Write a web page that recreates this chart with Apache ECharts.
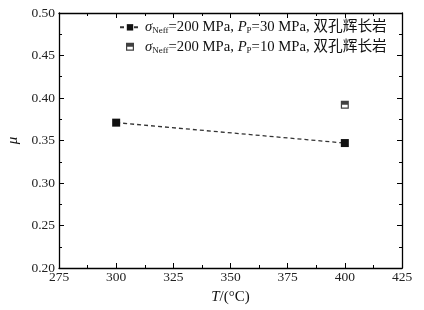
<!DOCTYPE html>
<html>
<head>
<meta charset="utf-8">
<script src="https://cdn.jsdelivr.net/npm/echarts@6/dist/echarts.min.js"></script>
<style>
html, body { margin: 0; padding: 0; background: #fff; }
#main { width: 424px; height: 310px; }
</style>
</head>
<body>
<div id="main"></div>
<script>
var temps30 = [300, 400];
var mu30 = [0.371, 0.347];
var temps10 = [400];
var mu10 = [0.392];
var names = ['p30', 'p10'];
var legendText = {
    p30: '{i|σ}{s|Neff}=200 MPa, {i|P}{s|P}=30 MPa, 双孔辉长岩',
    p10: '{i|σ}{s|Neff}=200 MPa, {i|P}{s|P}=10 MPa, 双孔辉长岩'
};

var serif = '"Liberation Serif", "Times New Roman", "Noto Sans CJK SC", serif';
var halfSquare = 'path://M0,0H10V10H0Z M1.5,5V8.5H8.5V5Z';

var myChart = echarts.init(document.getElementById('main'));
var axisCommon = {
    axisLine: { show: true, onZero: false, lineStyle: { color: '#000', width: 1.3 } },
    axisTick: { show: true, inside: true, length: 5, lineStyle: { color: '#000' } },
    minorTick: { show: true, splitNumber: 2, length: 3, lineStyle: { color: '#000' } },
    splitLine: { show: false }
};
var option = {
    animation: false,
    backgroundColor: '#fff',
    grid: { left: 59, right: 22, top: 13, bottom: 42, outerBoundsMode: 'none', containLabel: false },
    legend: {
        orient: 'vertical',
        left: 114,
        top: 15,
        itemGap: 4,
        itemWidth: 20,
        itemHeight: 8,
        data: names,
        formatter: function (n) { return legendText[n]; },
        textStyle: {
            fontFamily: serif,
            fontSize: 14.7,
            color: '#111',
            rich: {
                i: { fontFamily: serif, fontStyle: 'italic', fontSize: 14.7, color: '#111' },
                s: { fontFamily: serif, fontSize: 9, color: '#111', verticalAlign: 'bottom', padding: [7, 0, 0, 0] }
            }
        }
    },
    xAxis: [
        Object.assign({
            type: 'value', min: 275, max: 425, interval: 25,
            name: '{i|T}/(°C)', nameLocation: 'middle', nameGap: 22,
            nameTextStyle: {
                fontFamily: serif, fontSize: 15, color: '#111',
                rich: { i: { fontFamily: serif, fontStyle: 'italic', fontSize: 15, color: '#111' } }
            },
            axisLabel: { fontFamily: serif, fontSize: 13.5, color: '#222', margin: 3 }
        }, axisCommon),
        Object.assign({
            type: 'value', min: 275, max: 425, interval: 25, position: 'top',
            axisLabel: { show: false }
        }, axisCommon)
    ],
    yAxis: [
        Object.assign({
            type: 'value', min: 0.20, max: 0.50, interval: 0.05,
            name: 'μ', nameLocation: 'middle', nameGap: 37,
            nameTextStyle: { fontFamily: serif, fontStyle: 'italic', fontSize: 15, color: '#111' },
            axisLabel: {
                fontFamily: serif, fontSize: 13.5, color: '#222', margin: 4,
                formatter: function (v) { return v.toFixed(2); }
            }
        }, axisCommon),
        Object.assign({
            type: 'value', min: 0.20, max: 0.50, interval: 0.05, position: 'right',
            axisLabel: { show: false }
        }, axisCommon)
    ],
    series: [
        {
            name: 'p30',
            type: 'line',
            data: temps30.map(function (t, i) { return [t, mu30[i]]; }),
            symbol: 'rect',
            symbolSize: 8,
            itemStyle: { color: '#111' },
            lineStyle: { color: '#333', width: 1.3, type: [4, 3] }
        },
        {
            name: 'p10',
            type: 'scatter',
            data: temps10.map(function (t, i) { return [t, mu10[i]]; }),
            symbol: halfSquare,
            symbolSize: 8,
            itemStyle: { color: '#111' }
        }
    ]
};
myChart.setOption(option);
</script>
</body>
</html>
